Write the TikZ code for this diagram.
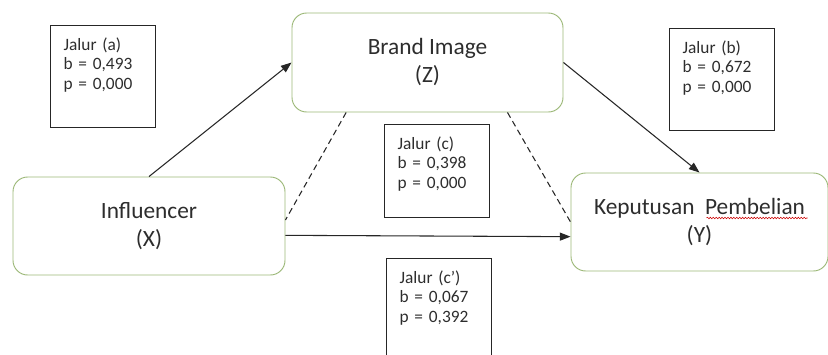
\documentclass[tikz,border=0pt]{standalone}
\usepackage{fontspec}
\setmainfont{Carlito}
\usetikzlibrary{arrows.meta,decorations.pathmorphing}
\definecolor{boxgreen}{RGB}{156,184,120}
\definecolor{txt}{RGB}{45,45,45}

\begin{document}
\begin{tikzpicture}[x=0.75pt,y=-0.75pt,>={Triangle[length=8pt,width=6pt]},
  var/.style={draw=boxgreen,line width=0.7pt,rounded corners=11pt,align=center,text=txt,font=\fontsize{17.5}{21}\selectfont},
  pathbox/.style={draw=black!85,line width=0.9pt,anchor=north west,align=left,text width=59.25pt,inner xsep=9.75pt,inner ysep=8.75pt,text height=10pt,text depth=#1,text=txt,font=\fontsize{13}{14.4}\selectfont},
  pathbox/.default=49pt,
  link/.style={->,line width=0.8pt,black!85},
  indirect/.style={line width=0.8pt,black!85,dash pattern=on 4.5pt off 3pt},
  spellmark/.style={red!80!black,line width=0.4pt,decorate,decoration={snake,amplitude=0.6pt,segment length=2.2pt}}]
\clip (0,0) rectangle (828,354);
%% variables
\node[var,minimum width=204pt,minimum height=73.5pt] (infl) at (149,226) {Influencer\\(X)};
\node[var,minimum width=203.25pt,minimum height=74.25pt] (brand) at (427.5,62.5) {Brand Image\\(Z)};
\node[var,minimum width=192.75pt,minimum height=73.5pt] (kep) at (699.5,222) {Keputusan\ \ Pembelian\\(Y)};
\draw[spellmark] ([shift={(7,-4)}]kep.center) -- +(101,0);
%% coefficients
\node[pathbox] (ja) at (50,25) {Jalur (a)\\b = 0,493\\p = 0,000};
\node[pathbox=42pt] (jc) at (384,124) {Jalur (c)\\b = 0,398\\p = 0,000};
\node[pathbox] (jb) at (669,28) {Jalur (b)\\b = 0,672\\p = 0,000};
\node[pathbox] (jcc) at (386,258) {Jalur (c’)\\b = 0,067\\p = 0,392};
%% paths
\draw[link] (infl.north) -- (brand.west);
\draw[link] (brand.east) -- (kep.north);
\draw[link] ([yshift=-7pt]infl.east) -- ([yshift=-11pt]kep.west);
\draw[indirect] ([xshift=-61pt]brand.south) -- ([yshift=4.5pt]infl.east);
\draw[indirect] ([xshift=60pt]brand.south) -- (kep.west);
\end{tikzpicture}
\end{document}
